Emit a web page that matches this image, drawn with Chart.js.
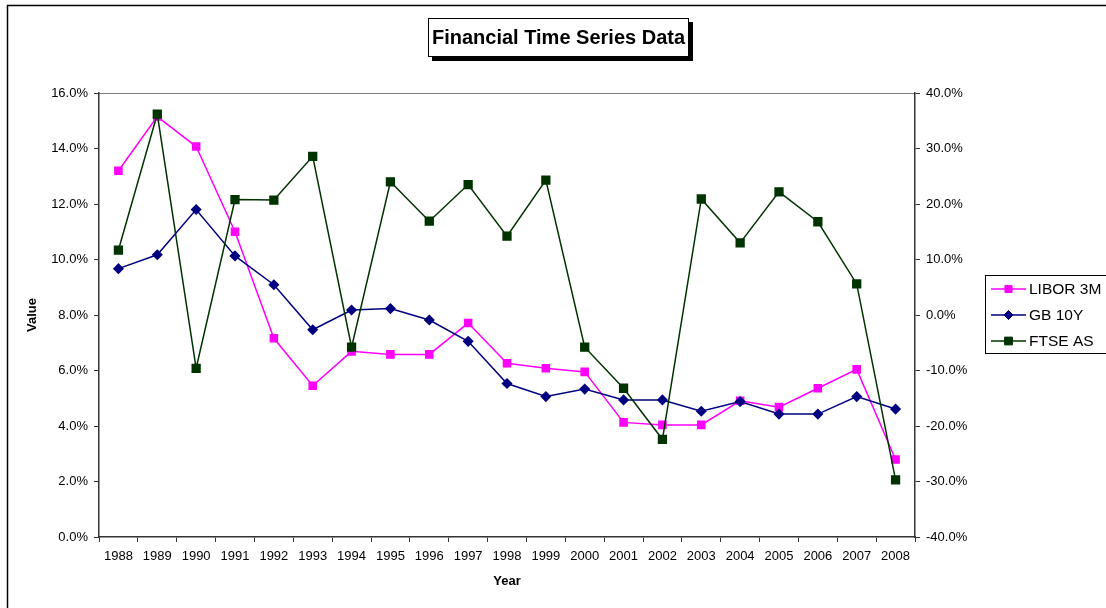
<!DOCTYPE html>
<html>
<head>
<meta charset="utf-8">
<script src="https://cdn.jsdelivr.net/npm/chart.js@4/dist/chart.umd.min.js"></script>
<style>
  body { margin: 0; background: #fff; }
  canvas { display: block; }
</style>
</head>
<body>
<canvas id="myChart" width="1106" height="608"></canvas>
<script>
// values, in percent
const years = ['1988', '1989', '1990', '1991', '1992', '1993', '1994', '1995', '1996', '1997', '1998',
    '1999', '2000', '2001', '2002', '2003', '2004', '2005', '2006', '2007', '2008'];
const libor3m = [13.2, 15.15, 14.07, 11.0, 7.16, 5.45, 6.69, 6.58, 6.58, 7.71, 6.26,
    6.08, 5.95, 4.13, 4.04, 4.04, 4.91, 4.68, 5.36, 6.04, 2.79];
const gb10y = [9.67, 10.17, 11.8, 10.13, 9.09, 7.47, 8.18, 8.23, 7.82, 7.05, 5.53,
    5.06, 5.33, 4.94, 4.94, 4.53, 4.88, 4.43, 4.43, 5.06, 4.61];
const ftseAs = [11.7, 36.2, -9.6, 20.8, 20.7, 28.6, -5.8, 24.0, 16.9, 23.5, 14.2,
    24.3, -5.8, -13.2, -22.4, 20.9, 13.0, 22.2, 16.8, 5.6, -29.7];
const seriesNames = ['LIBOR 3M', 'GB 10Y', 'FTSE AS'];

const FONT = 'Arial, "Liberation Sans", sans-serif';
const pct = v => Number(v).toFixed(1) + '%';

// frame, title box, top border of plot area and legend
const decor = {
    id: 'decor',
    beforeDraw(chart) {
        const ctx = chart.ctx;
        const a = chart.chartArea;
        ctx.save();
        ctx.strokeStyle = '#000';
        ctx.lineWidth = 1.5;
        ctx.strokeRect(7.5, 5.5, 1300, 800);
        ctx.strokeStyle = '#808080';
        ctx.lineWidth = 1;
        ctx.beginPath();
        ctx.moveTo(a.left, a.top + 0.5);
        ctx.lineTo(a.right, a.top + 0.5);
        ctx.stroke();
        ctx.restore();
    },
    afterDraw(chart) {
        const ctx = chart.ctx;
        ctx.save();
        // title with shadow
        ctx.fillStyle = '#000';
        ctx.fillRect(432, 22, 261, 39);
        ctx.fillStyle = '#fff';
        ctx.fillRect(428, 18, 261, 39);
        ctx.strokeStyle = '#000';
        ctx.lineWidth = 1;
        ctx.strokeRect(428.5, 18.5, 260, 38);
        ctx.fillStyle = '#000';
        ctx.font = 'bold 20px ' + FONT;
        ctx.textAlign = 'center';
        ctx.textBaseline = 'middle';
        ctx.fillText('Financial Time Series Data', 558.5, 38);

        // legend
        ctx.strokeStyle = '#000';
        ctx.strokeRect(985.5, 275.5, 200, 78);
        ctx.font = '15.5px ' + FONT;
        ctx.textAlign = 'left';
        chart.data.datasets.forEach((ds, i) => {
            const y = 289 + i * 26;
            ctx.strokeStyle = ds.borderColor;
            ctx.lineWidth = 1.5;
            ctx.beginPath();
            ctx.moveTo(991, y);
            ctx.lineTo(1026, y);
            ctx.stroke();
            ctx.fillStyle = ds.pointBackgroundColor;
            ctx.strokeStyle = ds.pointBorderColor;
            ctx.lineWidth = 1;
            Chart.helpers.drawPoint(ctx, {
                pointStyle: ds.pointStyle, rotation: 0, borderWidth: 1, radius: ds.pointRadius
            }, 1008.5, y);
            ctx.fillStyle = '#000';
            ctx.fillText(ds.label, 1029, y + 1);
        });
        ctx.restore();
    }
};

const data = {
    labels: years,
    datasets: [{
        label: seriesNames[0],
        data: libor3m,
        yAxisID: 'y',
        borderColor: '#FF00FF',
        backgroundColor: '#FF00FF',
        pointBackgroundColor: '#FF00FF',
        pointBorderColor: '#FF00FF',
        pointStyle: 'rect',
        pointRadius: 5,
        borderWidth: 1.5,
        order: 3
    }, {
        label: seriesNames[1],
        data: gb10y,
        yAxisID: 'y',
        borderColor: '#000080',
        backgroundColor: '#000080',
        pointBackgroundColor: '#000080',
        pointBorderColor: '#000080',
        pointStyle: 'rectRot',
        pointRadius: 4.5,
        borderWidth: 1.5,
        order: 2
    }, {
        label: seriesNames[2],
        data: ftseAs,
        yAxisID: 'y1',
        borderColor: '#003300',
        backgroundColor: '#003300',
        pointBackgroundColor: '#003300',
        pointBorderColor: '#003300',
        pointStyle: 'rect',
        pointRadius: 5.5,
        borderWidth: 1.5,
        order: 1
    }]
};

const config = {
    type: 'line',
    data: data,
    options: {
        responsive: false,
        animation: false,
        devicePixelRatio: 1,
        layout: {padding: {top: 93, left: 0, right: 0, bottom: 0}},
        plugins: {
            legend: {display: false},
            title: {display: false},
            tooltip: {enabled: false}
        },
        elements: {line: {tension: 0}},
        scales: {
            x: {
                type: 'category',
                offset: true,
                afterFit: s => { s.height = 71; },
                grid: {display: true, drawOnChartArea: false, offset: true, tickLength: 5, color: '#333'},
                border: {display: true, color: '#333', width: 1.5},
                ticks: {color: '#000', font: {family: FONT, size: 13}, padding: 7, maxRotation: 0, autoSkip: false},
                title: {display: true, text: 'Year', color: '#000', font: {family: FONT, size: 13, weight: 'bold'}, padding: {top: 0, bottom: 19}}
            },
            y: {
                position: 'left',
                min: 0,
                max: 16,
                afterFit: s => { s.width = 99; },
                grid: {display: true, drawOnChartArea: false, tickLength: 5, color: '#333'},
                border: {display: true, color: '#333', width: 1.5},
                ticks: {stepSize: 2, color: '#000', font: {family: FONT, size: 13}, padding: 6, callback: v => pct(v)},
                title: {display: true, text: 'Value', color: '#000', font: {family: FONT, size: 13, weight: 'bold'}, padding: {top: 25, bottom: 0}}
            },
            y1: {
                position: 'right',
                min: -40,
                max: 40,
                afterFit: s => { s.width = 191; },
                grid: {display: true, drawOnChartArea: false, tickLength: 5, color: '#333'},
                border: {display: true, color: '#333', width: 1.5},
                ticks: {stepSize: 10, color: '#000', font: {family: FONT, size: 13}, padding: 6, callback: v => pct(v)}
            }
        }
    },
    plugins: [decor]
};

window.onload = function () {
    const ctx = document.getElementById('myChart').getContext('2d');
    new Chart(ctx, config);
};
</script>
</body>
</html>
